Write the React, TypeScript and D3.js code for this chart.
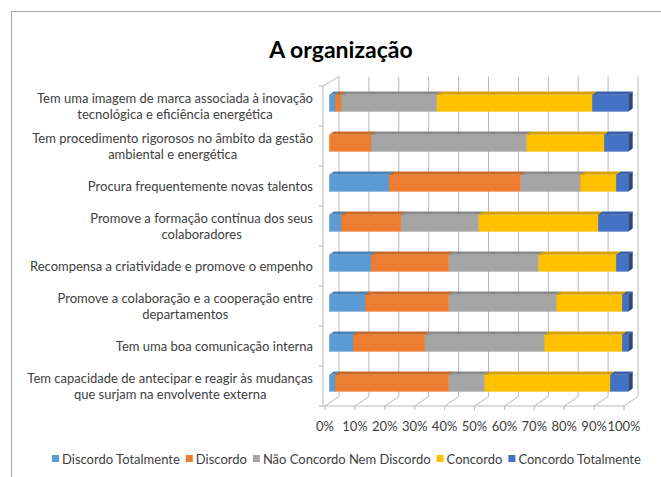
import React, { useEffect, useRef } from "react";
import * as d3 from "d3";

const categories: string[] = [
  "Tem uma imagem de marca associada à inovação\ntecnológica e eficiência energética",
  "Tem procedimento rigorosos no âmbito da gestão\nambiental e energética",
  "Procura frequentemente novas talentos",
  "Promove a formação contínua dos seus\ncolaboradores",
  "Recompensa a criatividade e promove o empenho",
  "Promove a colaboração e a cooperação entre\ndepartamentos",
  "Tem uma boa comunicação interna",
  "Tem capacidade de antecipar e reagir às mudanças\nque surjam na envolvente externa",
];

const seriesNames: string[] = [
  "Discordo Totalmente",
  "Discordo",
  "Não Concordo Nem Discordo",
  "Concordo",
  "Concordo Totalmente",
];

const discordoTotalmente: number[] = [2, 0, 20, 4, 14, 12, 8, 2];
const discordo: number[] = [2, 14, 44, 20, 26, 28, 24, 38];
const neutro: number[] = [32, 52, 20, 26, 30, 36, 40, 12];
const concordo: number[] = [52, 26, 12, 40, 26, 22, 26, 42];
const concordoTotalmente: number[] = [12, 8, 4, 10, 4, 2, 2, 6];

const xTicks: number[] = [0, 10, 20, 30, 40, 50, 60, 70, 80, 90, 100];

const colors = ["#5B9BD5", "#ED7D31", "#A5A5A5", "#FFC000", "#4472C4"];

export default function App() {
  const ref = useRef<SVGSVGElement>(null);

  useEffect(() => {
    const svg = d3.select(ref.current);
    svg.selectAll("*").remove();
    const W = 661, H = 477;
    const font = "Lato, 'Open Sans', sans-serif";

    // frame
    svg.append("rect").attr("x", 0).attr("y", 0).attr("width", W).attr("height", H).attr("fill", "#fff");
    svg.append("rect").attr("x", 11.5).attr("y", 11.5).attr("width", 700).attr("height", 600)
      .attr("fill", "#fff").attr("stroke", "#a6a6a6").attr("stroke-width", 1);

    // title
    svg.append("text").attr("x", 341).attr("y", 58).attr("text-anchor", "middle")
      .attr("font-family", font).attr("font-weight", 700).attr("font-size", 23).attr("fill", "#000")
      .text("A organização");

    const series = [discordoTotalmente, discordo, neutro, concordo, concordoTotalmente];

    // 3D geometry
    const DX = 14, DY = -9.5; // depth vector
    const x = d3.scaleLinear().domain([0, 100]).range([325, 624]);
    const yTop = 86, yBot = 406;
    const yBand = d3.scaleBand<number>().domain(d3.range(categories.length)).range([yTop, yBot]);
    const barBand = d3.scaleBand<number>().domain(d3.range(categories.length)).range([yTop, yBot])
      .paddingInner(0.575).paddingOuter(0.2875);
    const gridColor = "#b8b8b8";

    const g = svg.append("g");
    xTicks.forEach((t) => {
      g.append("line").attr("x1", x(t) + DX).attr("x2", x(t) + DX)
        .attr("y1", yTop + DY).attr("y2", yBot + DY)
        .attr("stroke", gridColor).attr("stroke-width", 1);
      g.append("line").attr("x1", x(t)).attr("x2", x(t) + DX)
        .attr("y1", yBot).attr("y2", yBot + DY)
        .attr("stroke", gridColor).attr("stroke-width", 1);
      g.append("line").attr("x1", x(t)).attr("x2", x(t))
        .attr("y1", yBot).attr("y2", yBot + 4)
        .attr("stroke", gridColor).attr("stroke-width", 1);
      g.append("text").attr("x", x(t)).attr("y", yBot + 25).attr("text-anchor", "middle")
        .attr("font-family", font).attr("font-size", 13).attr("fill", "#404040")
        .text(t + "%");
    });
    g.append("line").attr("x1", x(0)).attr("x2", x(100)).attr("y1", yBot).attr("y2", yBot)
      .attr("stroke", gridColor);
    g.append("line").attr("x1", x(0) - 2).attr("x2", x(0) - 2).attr("y1", yTop).attr("y2", yBot)
      .attr("stroke", gridColor);
    g.append("line").attr("x1", x(0) - 2).attr("x2", x(0) + DX).attr("y1", yTop).attr("y2", yTop + DY)
      .attr("stroke", gridColor);
    g.append("line").attr("x1", x(0) - 2).attr("x2", x(0)).attr("y1", yBot).attr("y2", yBot)
      .attr("stroke", gridColor);
    d3.range(categories.length + 1).forEach((i) => {
      const yy = yTop + i * yBand.step();
      g.append("line").attr("x1", x(0) - 6).attr("x2", x(0) - 2).attr("y1", yy).attr("y2", yy)
        .attr("stroke", gridColor);
    });

    // bars
    const t0 = 0.3, t1 = 0.62;
    const fdx = DX * t0, fdy = DY * t0;
    const ddx = DX * (t1 - t0), ddy = DY * (t1 - t0);
    categories.forEach((_, i) => {
      let acc = 0;
      const yb = (barBand(i) as number) + fdy;
      const h = barBand.bandwidth();
      series.forEach((s, k) => {
        const v = s[i];
        if (v <= 0) { return; }
        const xa = x(acc) + fdx, xb = x(acc + v) + fdx;
        acc += v;
        const c = d3.color(colors[k])!;
        const top = c.darker(0.5).formatHex();
        const side = c.darker(1.2).formatHex();
        g.append("path").attr("d", `M${xa},${yb}L${xa + ddx},${yb + ddy}L${xb + ddx},${yb + ddy}L${xb},${yb}Z`)
          .attr("fill", top);
        g.append("path").attr("d", `M${xb},${yb}L${xb + ddx},${yb + ddy}L${xb + ddx},${yb + ddy + h}L${xb},${yb + h}Z`)
          .attr("fill", side);
        g.append("rect").attr("x", xa).attr("y", yb).attr("width", xb - xa).attr("height", h)
          .attr("fill", colors[k]);
      });
    });

    // category labels
    const rightX = 313;
    categories.forEach((label, i) => {
      const lines = label.split("\n");
      const cy = (yBand(i) as number) + yBand.bandwidth() / 2;
      const lh = 16;
      const texts = lines.map((ln, j) =>
        svg.append("text").attr("font-family", font).attr("font-size", 13).attr("fill", "#404040")
          .attr("text-anchor", "middle")
          .attr("y", cy + (j - (lines.length - 1) / 2) * lh + 4.5)
          .text(ln)
      );
      const maxW = d3.max(texts, (t) => (t.node() as SVGTextElement).getComputedTextLength()) || 0;
      texts.forEach((t) => t.attr("x", rightX - maxW / 2));
    });

    // legend
    const lg = svg.append("g");
    let lx = 52;
    const ly = 459;
    seriesNames.forEach((name, k) => {
      lg.append("rect").attr("x", lx).attr("y", ly - 4).attr("width", 7).attr("height", 7).attr("fill", colors[k]);
      const t = lg.append("text").attr("x", lx + 10).attr("y", ly + 4.5)
        .attr("font-family", font).attr("font-size", 13).attr("fill", "#404040").text(name);
      lx += 10 + (t.node() as SVGTextElement).getComputedTextLength() + 6;
    });
  }, []);

  return (
    <svg ref={ref} width={661} height={477}
      style={{ position: "absolute", left: 0, top: 0, display: "block" }} />
  );
}
